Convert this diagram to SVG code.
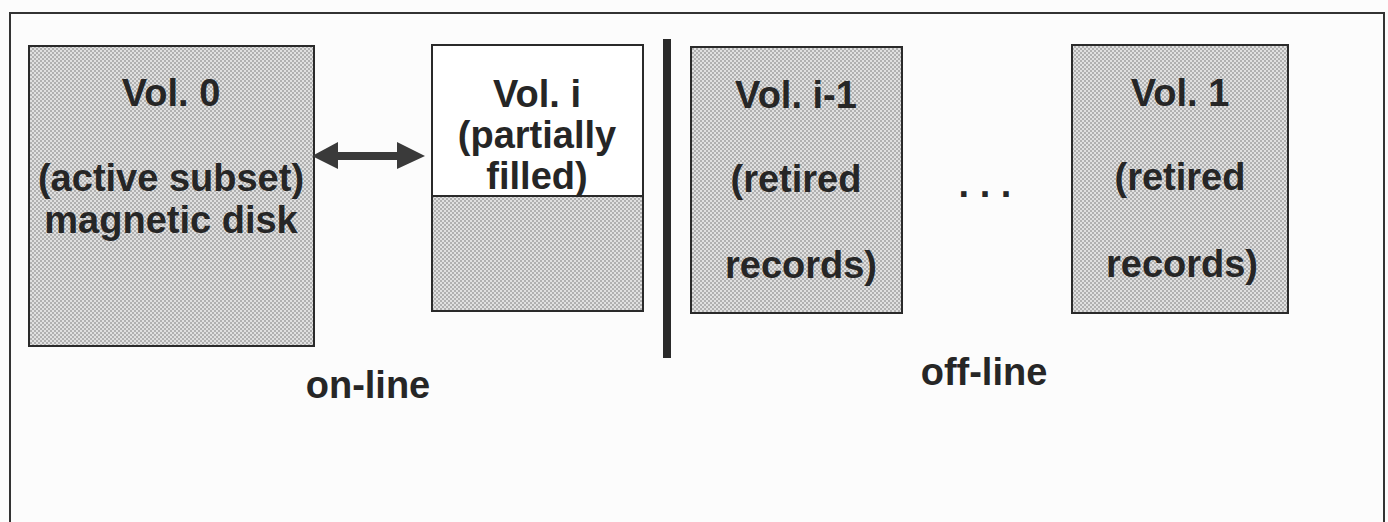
<svg xmlns="http://www.w3.org/2000/svg" width="1388" height="522" viewBox="0 0 1388 522">
  <defs>
    <pattern id="dots" width="4" height="4" patternUnits="userSpaceOnUse">
      <rect width="4" height="4" fill="#e0e0e0"/>
      <rect x="0" y="0" width="2" height="2" fill="#b0b0b0"/>
      <rect x="2" y="2" width="2" height="2" fill="#b0b0b0"/>
    </pattern>
  </defs>
  <style>
    .vol { fill: url(#dots); stroke: #2a2a2a; stroke-width: 2; }
    .white { fill: #ffffff; stroke: #2a2a2a; stroke-width: 2; }
    .lbl { font-family: "Liberation Sans", Arial, sans-serif; font-weight: bold; font-size: 38px; fill: #262626; text-anchor: middle; }
    .frame { fill: none; stroke: #333333; stroke-width: 2; }
  </style>
  <rect width="1388" height="522" fill="#fcfcfc"/>
  <g id="frame">
    <path class="frame" d="M10 530 V13 H1384 V530"/>
  </g>
  <g id="vol0">
    <rect class="vol" x="29" y="46" width="285" height="300"/>
    <text class="lbl" x="171" y="106">Vol. 0</text>
    <text class="lbl" x="171" y="191">(active subset)</text>
    <text class="lbl" x="171" y="233">magnetic disk</text>
  </g>
  <g id="voli">
    <rect class="white" x="432" y="45" width="211" height="151"/>
    <rect class="vol" x="432" y="196" width="211" height="115"/>
    <text class="lbl" x="537" y="107">Vol. i</text>
    <text class="lbl" x="537" y="148">(partially</text>
    <text class="lbl" x="537" y="189">filled)</text>
  </g>
  <g id="divider">
    <rect x="663" y="39" width="8" height="319" fill="#2a2a2a"/>
  </g>
  <g id="voli-1">
    <rect class="vol" x="691" y="47" width="211" height="266"/>
    <text class="lbl" x="796" y="108">Vol. i-1</text>
    <text class="lbl" x="796" y="192">(retired</text>
    <text class="lbl" x="801" y="278">records)</text>
  </g>
  <g id="ellipsis">
    <text class="lbl" x="985" y="197">. . .</text>
  </g>
  <g id="vol1">
    <rect class="vol" x="1072" y="45" width="216" height="268"/>
    <text class="lbl" x="1180" y="106">Vol. 1</text>
    <text class="lbl" x="1180" y="190">(retired</text>
    <text class="lbl" x="1182" y="277">records)</text>
  </g>
  <g id="labels">
    <text class="lbl" x="368" y="398">on-line</text>
    <text class="lbl" x="984" y="385">off-line</text>
  </g>
  <g id="connectors">
    <path d="M312 156 L338 142 L338 152 L397 152 L397 142 L425 156 L397 169 L397 160 L338 160 L338 169 Z" fill="#3a3a3a"/>
  </g>
</svg>
